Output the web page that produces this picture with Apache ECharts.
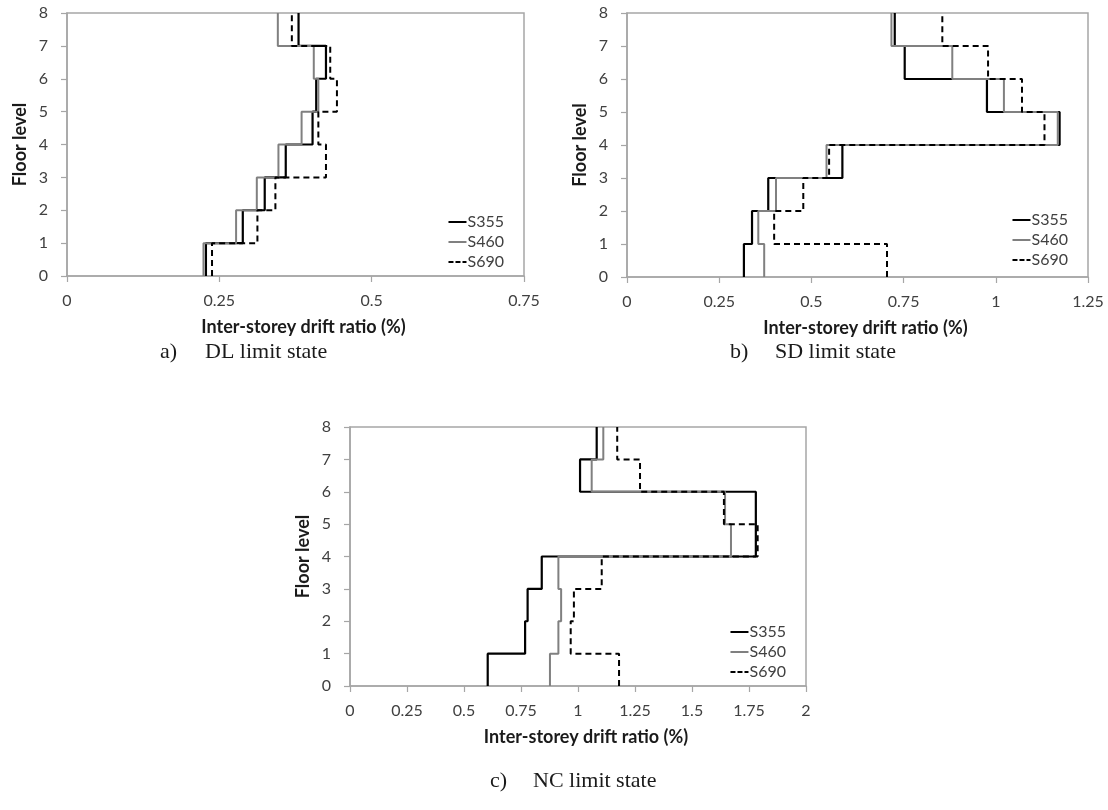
<!DOCTYPE html>
<html>
<head>
<meta charset="utf-8">
<script src="https://cdn.jsdelivr.net/npm/echarts@6/dist/echarts.min.js"></script>
<style>
html,body{margin:0;padding:0;background:#fff;}
#chart{width:1108px;height:810px;}
</style>
</head>
<body>
<div id="chart"></div>
<script>
// Floor levels (y) and storey drift values (x), storeys 1..8
const floorTicks = [0, 1, 2, 3, 4, 5, 6, 7, 8];
const seriesNames = ['S355', 'S460', 'S690'];

// a) DL limit state
const dl_S355 = [0.228, 0.2885, 0.3245, 0.359, 0.403, 0.409, 0.425, 0.380];
const dl_S460 = [0.224, 0.2775, 0.3115, 0.347, 0.385, 0.4125, 0.405, 0.346];
const dl_S690 = [0.238, 0.3125, 0.342, 0.425, 0.4125, 0.443, 0.432, 0.369];

// b) SD limit state
const sd_S355 = [0.317, 0.339, 0.383, 0.584, 1.173, 0.976, 0.753, 0.726];
const sd_S460 = [0.372, 0.356, 0.404, 0.541, 1.168, 1.022, 0.882, 0.717];
const sd_S690 = [0.705, 0.399, 0.478, 0.548, 1.132, 1.071, 0.979, 0.855];

// c) NC limit state
const nc_S355 = [0.604, 0.768, 0.779, 0.841, 1.78, 1.78, 1.009, 1.082];
const nc_S460 = [0.877, 0.914, 0.926, 0.914, 1.671, 1.645, 1.060, 1.111];
const nc_S690 = [1.180, 0.968, 0.982, 1.104, 1.788, 1.640, 1.272, 1.172];

const xMax = [0.75, 1.25, 2];
const captionLetters = ['a)', 'b)', 'c)'];
const captionTexts = ['DL limit state', 'SD limit state', 'NC limit state'];
const axisTitleX = 'Inter-storey drift ratio (%)';
const axisTitleY = 'Floor level';

// build step polyline from storey values
function steps(vals) {
  const pts = [];
  vals.forEach((v, i) => { pts.push([v, floorTicks[i]]); pts.push([v, floorTicks[i + 1]]); });
  return pts;
}

const FONT = 'Lato, "Liberation Sans", sans-serif';
const SERIF = '"Liberation Serif", "DejaVu Serif", serif';
const grids = [
  {left: 67, top: 13, width: 457, height: 263},
  {left: 627, top: 13, width: 461, height: 264},
  {left: 350, top: 427, width: 456, height: 259}
];
const legendTops = [209, 207, 619];
const captionPos = [[160, 205, 352], [730, 775, 352], [490, 533, 781]];
const panels = [
  [dl_S355, dl_S460, dl_S690],
  [sd_S355, sd_S460, sd_S690],
  [nc_S355, nc_S460, nc_S690]
];
const styles = [
  {color: '#000000', width: 2.2, type: 'solid'},
  {color: '#808080', width: 2, type: 'solid'},
  {color: '#000000', width: 2, type: [6, 4]}
];
const solidIcon = 'path://M0,0 L18,0 L18,2 L0,2 Z';
const dashIcon = 'path://M0,0 L5,0 L5,2 L0,2 Z M7,0 L12,0 L12,2 L7,2 Z M14,0 L18,0 L18,2 L14,2 Z';
const legendIcons = [solidIcon, solidIcon, dashIcon];

const xAxes = [], yAxes = [], series = [], legends = [], graphics = [];
grids.forEach((g, p) => {
  g.show = true; g.borderColor = '#a6a6a6'; g.borderWidth = 1.5; g.containLabel = false;
  xAxes.push({
    type: 'value', gridIndex: p, min: 0, max: xMax[p], interval: 0.25,
    splitLine: {show: false},
    axisLine: {show: true, onZero: false, lineStyle: {color: '#a6a6a6', width: 1.5}},
    axisTick: {show: true, length: 6, lineStyle: {color: '#a6a6a6', width: 1.2}},
    axisLabel: {color: '#404040', fontSize: 16, fontFamily: FONT, margin: 17}
  });
  yAxes.push({
    type: 'value', gridIndex: p, min: 0, max: 8, interval: 1,
    splitLine: {show: false},
    axisLine: {show: true, onZero: false, lineStyle: {color: '#a6a6a6', width: 1.5}},
    axisTick: {show: true, length: 6, lineStyle: {color: '#a6a6a6', width: 1.2}},
    axisLabel: {color: '#404040', fontSize: 16, fontFamily: FONT, margin: 19}
  });
  panels[p].forEach((vals, s) => {
    series.push({
      type: 'line', name: seriesNames[s], xAxisIndex: p, yAxisIndex: p,
      data: steps(vals), symbol: 'none', silent: true, animation: false,
      lineStyle: styles[s], itemStyle: {color: styles[s].color}
    });
  });
  legends.push({
    orient: 'vertical',
    data: seriesNames.map((n, s) => ({name: n, icon: legendIcons[s]})),
    right: 1108 - (g.left + g.width) + 15,
    top: legendTops[p],
    itemWidth: 18, itemHeight: 2, itemGap: 4,
    textStyle: {color: '#404040', fontSize: 16, fontFamily: FONT, padding: [0, 0, 0, -4]},
    selectedMode: false
  });
  // axis titles
  graphics.push({
    type: 'text', x: g.left + g.width / 2 + 8, y: g.top + g.height + 51,
    style: {text: axisTitleX, font: 'bold 18px ' + FONT, fill: '#1a1a1a', align: 'center', verticalAlign: 'middle'}
  });
  graphics.push({
    type: 'text', x: g.left - 47, y: g.top + g.height / 2, rotation: Math.PI / 2,
    style: {text: axisTitleY, font: 'bold 18px ' + FONT, fill: '#1a1a1a', align: 'center', verticalAlign: 'middle'}
  });
  // captions
  graphics.push({
    type: 'text', x: captionPos[p][0], y: captionPos[p][2],
    style: {text: captionLetters[p], font: '22px ' + SERIF, fill: '#1a1a1a', align: 'left', verticalAlign: 'middle'}
  });
  graphics.push({
    type: 'text', x: captionPos[p][1], y: captionPos[p][2],
    style: {text: captionTexts[p], font: '22px ' + SERIF, fill: '#1a1a1a', align: 'left', verticalAlign: 'middle'}
  });
});

const chart = echarts.init(document.getElementById('chart'), null, {renderer: 'canvas'});
chart.setOption({
  backgroundColor: '#ffffff',
  animation: false,
  grid: grids, xAxis: xAxes, yAxis: yAxes, series: series, legend: legends, graphic: graphics
});
</script>
</body>
</html>
